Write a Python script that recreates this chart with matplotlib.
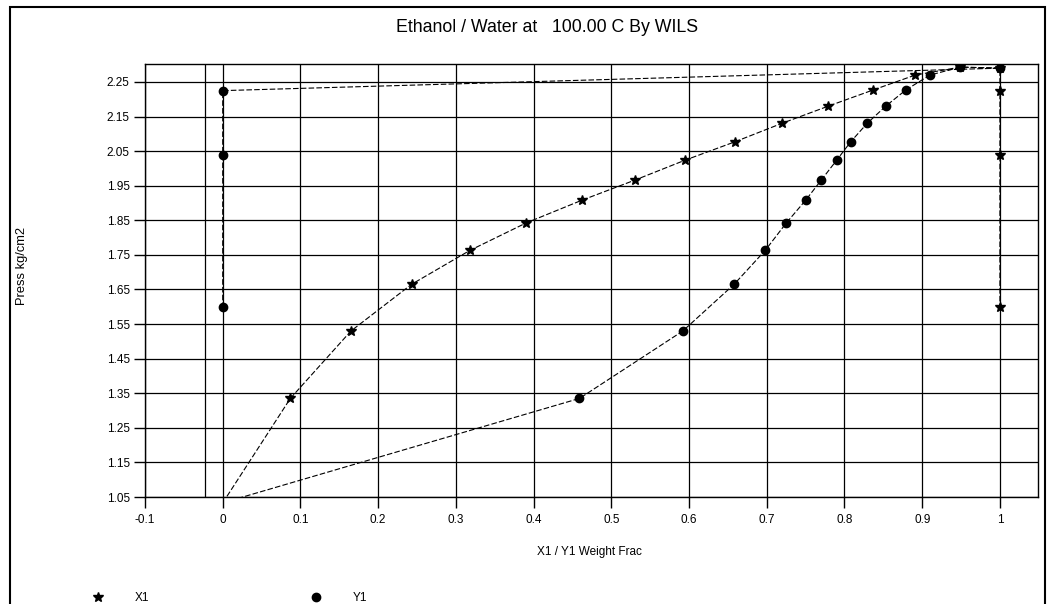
import matplotlib
matplotlib.use("Agg")
import matplotlib.pyplot as plt
from matplotlib.lines import Line2D
from matplotlib.patches import Rectangle

plt.rcParams['font.family'] = ['Liberation Sans', 'DejaVu Sans']

# Data
pressure = [1.033, 1.335, 1.530, 1.665, 1.763, 1.842, 1.908, 1.966, 2.024, 2.077,
            2.130, 2.180, 2.227, 2.270, 2.293, 2.290, 2.225, 2.040, 1.600]
x1 = [0.0, 0.087, 0.165, 0.243, 0.318, 0.390, 0.462, 0.530, 0.595, 0.659,
      0.719, 0.779, 0.837, 0.891, 0.949, 1.0, 1.0, 1.0, 1.0]
y1 = [0.0, 0.459, 0.592, 0.658, 0.698, 0.725, 0.750, 0.770, 0.790, 0.808,
      0.829, 0.853, 0.879, 0.910, 0.949, 1.0, 0.0, 0.0, 0.0]

x_ticks = [-0.1, 0, 0.1, 0.2, 0.3, 0.4, 0.5, 0.6, 0.7, 0.8, 0.9, 1]
x_tick_labels = ["-0.1", "0", "0.1", "0.2", "0.3", "0.4", "0.5", "0.6", "0.7", "0.8", "0.9", "1"]
y_ticks = [1.05, 1.15, 1.25, 1.35, 1.45, 1.55, 1.65, 1.75, 1.85, 1.95, 2.05, 2.15, 2.25]
y_tick_labels = ["1.05", "1.15", "1.25", "1.35", "1.45", "1.55", "1.65", "1.75",
                 "1.85", "1.95", "2.05", "2.15", "2.25"]
extra_vline = -0.023

title = "Ethanol / Water at   100.00 C By WILS"
x_label = "X1 / Y1 Weight Frac"
y_label = "Press kg/cm2"
series_names = ["X1", "Y1"]

W, H = 1047, 604
fig = plt.figure(figsize=(W / 100, H / 100), dpi=100)
fig.patch.set_facecolor("white")

# axes placement in pixels
left, right, top, bottom = 145, 1038, 64, 497
ax = fig.add_axes([left / W, 1 - bottom / H, (right - left) / W, (bottom - top) / H])

ax.set_xlim(-0.1, 1.049)
ax.set_ylim(1.05, 2.302)
ax.set_xticks(x_ticks)
ax.set_xticklabels(x_tick_labels)
ax.set_yticks(y_ticks)
ax.set_yticklabels(y_tick_labels)
ax.tick_params(axis='both', direction='out', length=8, width=1, colors='black',
               labelsize=8.5)
ax.tick_params(axis='x', pad=4)
ax.tick_params(axis='y', pad=3)
ax.grid(True, color='black', linewidth=0.9, linestyle='-')
ax.set_axisbelow(True)
ax.axvline(extra_vline, color='black', linewidth=0.9, zorder=0.5)
for sp in ax.spines.values():
    sp.set_linewidth(1.0)
    sp.set_color('black')

ax.plot(x1, pressure, color='black', linewidth=0.8, linestyle=(0, (5, 2)),
        marker='*', markersize=7, markerfacecolor='black', markeredgecolor='black',
        zorder=3, clip_on=True)
ax.plot(y1, pressure, color='black', linewidth=0.8, linestyle=(0, (5, 2)),
        marker='o', markersize=6, markerfacecolor='black', markeredgecolor='black',
        zorder=4, clip_on=True)

fig.text(547 / W, 1 - 27 / H, title, ha='center', va='center', fontsize=12.8)
fig.text(589 / W, 1 - 552 / H, x_label, ha='center', va='center', fontsize=8.5)
fig.text(22 / W, 1 - 266 / H, y_label, ha='center', va='center', fontsize=9.3, rotation=90)

# legend
handles = [Line2D([], [], color='black', marker='*', linestyle='none', markersize=7),
           Line2D([], [], color='black', marker='o', linestyle='none', markersize=6)]
fig.legend(handles, series_names, loc='center left',
           bbox_to_anchor=(92.5 / W, 1 - 598 / H), ncol=2, frameon=False,
           fontsize=8.5, handlelength=1.0, handletextpad=2.6, columnspacing=13.6,
           borderpad=0, borderaxespad=0)

# outer frame
fig.add_artist(Rectangle((10 / W, -0.05), (1045 - 10) / W, 1 - 7 / H + 0.05,
                         transform=fig.transFigure, fill=False,
                         edgecolor='black', linewidth=1.5))

fig.savefig("out.png", dpi=100)
